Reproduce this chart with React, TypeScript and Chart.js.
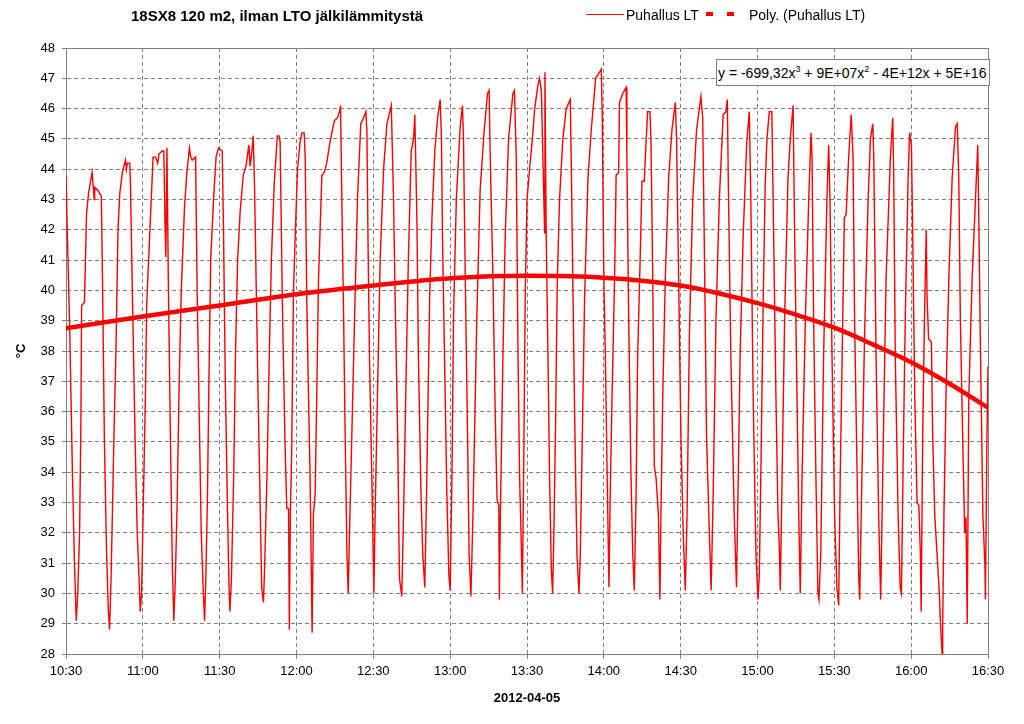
import { useEffect, useRef } from 'react'
import Chart from 'chart.js/auto'

// minutes since 10:30 for each logged sample
const sampleMinutes = [
  0, 0.5, 1.5, 2.5, 3.3, 4.0, 4.6, 5.3, 5.8, 6.1,
  7.2, 7.6, 8.0, 8.8, 10.2, 11.0, 11.2, 12.5, 13.8, 14.3,
  15.0, 15.8, 16.5, 17.0, 17.6, 18.2, 18.8, 19.5, 20.3, 21.0,
  22.0, 23.2, 23.6, 23.9, 24.9, 25.2, 26.0, 27.0, 27.8, 28.3,
  29.0, 29.5, 30.2, 31.0, 31.5, 32.5, 33.6, 34.0, 35.0, 35.8,
  36.3, 37.5, 38.2, 38.7, 39.0, 39.4, 40.0, 40.8, 41.5, 42.1,
  42.7, 43.4, 44.2, 45.0, 46.3, 47.2, 48.2, 48.7, 49.3, 50.6,
  51.2, 52.0, 52.8, 53.5, 54.1, 54.6, 55.2, 55.8, 56.5, 57.6,
  58.6, 59.5, 61.0, 61.5, 62.2, 63.0, 63.6, 64.0, 64.6, 65.5,
  66.2, 67.0, 68.0, 69.2, 70.3, 71.4, 71.9, 72.6, 73.1, 73.6,
  74.3, 75.0, 75.8, 76.4, 77.1, 77.6, 78.5, 79.4, 80.2, 81.3,
  82.5, 83.2, 83.6, 84.5, 85.5, 86.2, 86.9, 87.2, 87.6, 88.1,
  88.8, 89.5, 90.4, 91.4, 92.1, 93.0, 93.4, 94.0, 94.7, 95.3,
  96.1, 96.6, 97.3, 97.9, 98.6, 99.9, 100.9, 101.8, 102.9, 103.8,
  104.8, 106.0, 106.8, 107.2, 107.7, 108.4, 109.0, 109.7, 110.2, 110.7,
  111.6, 112.9, 113.8, 115.1, 116.2, 117.1, 117.5, 117.9, 118.5, 119.4,
  120.2, 120.7, 121.6, 122.7, 124.0, 125.3, 127.0, 127.9, 128.5, 129.5,
  130.2, 131.1, 131.8, 132.8, 133.7, 134.8, 135.7, 136.2, 137.0, 137.6,
  138.6, 139.3, 140.1, 140.9, 142.0, 142.9, 144.0, 145.1, 146.1, 146.6,
  147.0, 147.8, 148.7, 149.5, 150.0, 150.7, 151.3, 152.4, 153.9, 154.8,
  155.2, 155.9, 156.8, 157.4, 158.1, 158.9, 160.4, 161.7, 163.3, 164.6,
  165.2, 165.6, 166.7, 167.6, 168.3, 169.0, 169.2, 169.6, 170.6, 171.5,
  172.8, 174.5, 175.1, 175.8, 176.5, 177.1, 177.6, 178.2, 178.8, 179.3,
  180.0, 181.0, 182.1, 183.0, 184.3, 184.9, 185.6, 186.2, 186.9, 187.0,
  187.5, 188.2, 188.8, 189.5, 190.0, 190.5, 191.2, 191.8, 192.7, 194.0,
  195.3, 196.9, 197.3, 197.9, 198.6, 199.5, 200.3, 200.8, 201.6, 202.5,
  203.8, 205.1, 206.8, 208.3, 209.0, 209.4, 210.0, 210.6, 211.3, 212.0,
  212.5, 213.2, 214.2, 214.8, 215.8, 216.1, 217.4, 218.7, 219.0, 219.7,
  220.6, 221.3, 221.9, 222.6, 223.2, 224.2, 224.9, 225.8, 226.2, 227.1,
  228.0, 228.4, 229.1, 229.7, 230.4, 231.3, 231.9, 232.3, 233.0, 234.0,
  235.3, 236.6, 237.9, 238.4, 239.2, 240.1, 241.0, 241.8, 242.5, 243.4,
  244.7, 246.2, 247.9, 248.6, 249.4, 250.1, 251.2, 251.9, 252.7, 253.8,
  255.1, 256.6, 257.7, 258.2, 258.7, 259.6, 260.9, 261.8, 262.5, 263.2,
  264.4, 265.8, 266.8, 267.4, 268.3, 269.4, 270.2, 270.7, 271.4, 272.2,
  273.0, 273.7, 274.6, 275.6, 276.3, 277.2, 278.0, 278.5, 278.9, 279.6,
  280.6, 281.9, 282.8, 283.9, 284.5, 285.2, 286.1, 286.7, 287.4, 288.7,
  290.0, 290.9, 291.3, 291.9, 292.8, 293.6, 294.0, 294.7, 295.8, 297.1,
  297.8, 298.3, 299.1, 300.1, 301.0, 301.7, 302.3, 303.3, 303.9, 304.6,
  305.6, 306.6, 307.3, 307.9, 308.9, 309.5, 309.9, 310.5, 311.8, 313.2,
  314.1, 315.0, 315.4, 316.3, 317.3, 318.1, 318.9, 320.2, 321.9, 322.8,
  323.2, 323.8, 324.9, 325.7, 326.2, 326.8, 327.7, 328.8, 329.4, 330.1,
  330.6, 331.4, 332.3, 333.0, 333.6, 333.9, 334.5, 335.2, 335.9, 336.2,
  336.8, 337.9, 338.4, 339.2, 340.1, 341.0, 341.5, 342.1, 342.3, 342.8,
  343.6, 344.7, 346.0, 347.3, 348.0, 348.6, 349.2, 350.1, 350.9, 351.4,
  351.9, 352.5, 353.8, 355.1, 356.0, 356.4, 357.1, 358.0, 358.8, 359.0,
  359.6, 360.0,
]

// Puhallus LT, °C
const puhallusLT = [
  43.8, 42.0, 38.5, 34.0, 31.0, 29.1, 30.0, 32.0, 35.5, 39.5,
  39.6, 41.0, 42.5, 43.2, 43.9, 43.0, 43.4, 43.3, 43.1, 40.0,
  35.0, 31.5, 29.5, 28.8, 30.5, 33.0, 35.5, 38.0, 42.0, 43.2,
  43.9, 44.3, 44.0, 44.2, 44.2, 43.4, 39.5, 35.0, 32.0, 31.0,
  29.4, 30.0, 33.0, 36.5, 39.5, 41.5, 43.6, 44.4, 44.4, 44.2,
  44.5, 44.6, 44.6, 42.0, 41.1, 44.7, 40.0, 35.0, 31.0, 29.1,
  30.5, 33.0, 37.0, 40.0, 42.8, 43.9, 44.7, 44.4, 44.3, 44.4,
  40.0, 36.0, 32.0, 30.3, 29.1, 30.5, 33.0, 37.0, 41.0, 43.0,
  44.4, 44.7, 44.6, 42.0, 37.0, 33.0, 30.4, 29.4, 30.5, 34.0,
  38.0, 41.0, 42.6, 43.8, 44.1, 44.8, 44.1, 44.6, 45.1, 43.5,
  40.0, 36.5, 33.0, 30.2, 29.7, 31.0, 34.0, 38.0, 41.0, 43.5,
  45.1, 45.1, 44.9, 39.5, 35.0, 32.8, 32.8, 28.8, 32.6, 34.6,
  39.9, 41.8, 44.0, 44.9, 45.2, 45.2, 44.4, 39.8, 36.5, 33.9,
  28.7, 32.6, 33.3, 36.5, 40.4, 43.8, 43.9, 44.2, 44.8, 45.2,
  45.6, 45.7, 45.9, 46.1, 43.0, 39.1, 35.2, 31.3, 30.0, 32.0,
  35.2, 39.9, 43.0, 45.5, 45.7, 45.9, 45.2, 41.8, 37.8, 33.9,
  30.0, 32.6, 36.5, 41.1, 44.0, 45.5, 46.1, 43.0, 39.8, 35.2,
  30.5, 29.9, 32.6, 37.2, 41.1, 44.6, 45.0, 45.8, 42.4, 37.8,
  33.3, 31.3, 30.2, 33.9, 39.8, 42.4, 44.6, 45.7, 46.3, 45.0,
  41.8, 37.8, 33.3, 30.6, 30.1, 33.9, 39.1, 43.0, 45.4, 46.1,
  45.0, 40.4, 35.2, 31.3, 29.9, 32.6, 39.1, 43.3, 45.3, 46.5,
  46.6, 44.6, 40.4, 35.9, 33.1, 32.9, 29.8, 32.6, 37.8, 41.8,
  45.0, 46.5, 46.6, 44.4, 37.8, 33.9, 32.2, 30.0, 35.0, 39.8,
  43.0, 44.0, 45.0, 46.0, 46.8, 47.0, 46.6, 44.4, 41.9, 47.2,
  41.8, 37.8, 33.9, 30.8, 30.0, 32.0, 35.9, 40.2, 43.0, 45.0,
  46.0, 46.3, 44.1, 40.2, 35.9, 31.3, 30.0, 31.3, 35.2, 39.8,
  43.7, 45.3, 47.0, 47.2, 47.3, 45.7, 40.4, 37.8, 33.9, 30.2,
  33.3, 36.5, 40.4, 43.8, 43.9, 46.2, 46.5, 46.7, 44.4, 39.1,
  33.9, 31.3, 30.1, 33.3, 37.8, 41.1, 43.6, 43.6, 44.4, 45.9,
  45.9, 45.0, 40.4, 34.2, 33.8, 32.6, 29.8, 32.6, 36.5, 40.4,
  43.7, 45.3, 46.2, 45.0, 40.4, 35.2, 32.0, 30.1, 32.6, 38.5,
  43.0, 45.3, 46.4, 45.7, 40.4, 35.2, 32.0, 30.1, 33.3, 39.1,
  43.0, 45.8, 45.9, 46.3, 43.0, 37.8, 32.6, 30.2, 33.9, 37.8,
  41.8, 44.9, 45.9, 43.0, 36.5, 31.3, 29.8, 30.6, 34.5, 39.5,
  43.5, 45.0, 45.9, 45.9, 41.8, 36.5, 32.6, 31.6, 30.1, 33.9,
  39.1, 43.7, 45.0, 46.1, 41.8, 37.8, 32.6, 30.0, 33.9, 39.1,
  43.0, 45.2, 44.4, 39.1, 33.9, 30.0, 29.8, 31.3, 37.8, 43.0,
  44.8, 43.0, 37.8, 32.6, 30.2, 29.6, 33.9, 39.1, 42.4, 42.5,
  44.4, 45.8, 44.4, 39.1, 33.9, 30.6, 29.8, 32.6, 38.5, 43.0,
  45.0, 45.5, 44.4, 37.8, 32.6, 29.8, 33.9, 40.4, 44.4, 45.7,
  43.7, 37.8, 32.6, 30.2, 30.0, 33.9, 39.1, 43.7, 45.2, 44.8,
  41.8, 36.5, 33.0, 32.9, 31.3, 29.4, 35.2, 39.1, 42.0, 39.8,
  38.4, 38.3, 35.2, 32.6, 31.3, 30.0, 28.9, 28.0, 28.9, 32.6,
  36.5, 40.4, 43.7, 45.4, 45.5, 43.7, 39.1, 35.2, 32.0, 32.5,
  29.0, 36.5, 40.4, 43.0, 44.8, 42.4, 37.8, 32.6, 30.9, 29.8,
  35.2, 37.5,
]

// Poly. (Puhallus LT)
const trendMinutes = [0, 30, 60, 90, 120, 150, 180, 210, 240, 270, 285, 300, 315, 330, 345, 360]
const trendLT = [38.75, 39.14, 39.5, 39.87, 40.16, 40.4, 40.48, 40.42, 40.16, 39.58, 39.2, 38.77, 38.22, 37.63, 36.92, 36.13]

const timeTicks = ['10:30', '11:00', '11:30', '12:00', '12:30', '13:00', '13:30', '14:00', '14:30', '15:00', '15:30', '16:00', '16:30']

const START = 630 // 10:30 in minutes
const FONT = "'Liberation Sans', Arial, Helvetica, sans-serif"

const framePlugin = {
  id: 'frame',
  beforeDatasetsDraw(chart: any) {
    const { ctx, chartArea: a } = chart
    ctx.save()
    ctx.strokeStyle = '#808080'
    ctx.lineWidth = 1
    ctx.strokeRect(a.left + 0.5, a.top + 0.5, a.right - a.left, a.bottom - a.top)
    ctx.restore()
  },
}

function TempChart() {
  const chartRef = useRef<HTMLCanvasElement | null>(null)

  useEffect(() => {
    const data = sampleMinutes.map((m, i) => ({ x: START + m, y: puhallusLT[i] }))
    const trend = trendMinutes.map((m, i) => ({ x: START + m, y: trendLT[i] }))

    const chart = new Chart(chartRef.current as HTMLCanvasElement, {
      type: 'line',
      data: {
        datasets: [
          {
            label: 'Puhallus LT',
            data,
            borderColor: '#ff0000',
            borderWidth: 1.4,
            pointRadius: 0,
            tension: 0,
          },
          {
            label: 'Poly. (Puhallus LT)',
            data: trend,
            borderColor: '#ff0000',
            borderWidth: 4.5,
            pointRadius: 0,
            cubicInterpolationMode: 'monotone',
          },
        ],
      },
      options: {
        responsive: false,
        animation: false,
        layout: { padding: { top: 48, right: 36, left: 0, bottom: 0 } },
        plugins: { legend: { display: false }, title: { display: false }, tooltip: { enabled: false } },
        scales: {
          x: {
            type: 'linear',
            min: START,
            max: START + 360,
            afterFit: (s: any) => { s.height = 70 },
            ticks: {
              stepSize: 30,
              autoSkip: false,
              maxRotation: 0,
              padding: 5,
              color: '#000',
              font: { family: FONT, size: 13 },
              callback: (v: any, i: number) => timeTicks[i],
            },
            grid: { color: '#808080', tickLength: 5, tickBorderDash: [] },
            border: { color: '#808080', dash: [4, 3] },
            title: {
              display: true,
              text: '2012-04-05',
              color: '#000',
              font: { family: FONT, size: 13, weight: 'bold' },
              padding: { top: 0, bottom: 18 },
            },
          },
          y: {
            min: 28,
            max: 48,
            afterFit: (s: any) => { s.width = 66 },
            ticks: {
              stepSize: 1,
              padding: 7,
              color: '#000',
              font: { family: FONT, size: 13 },
            },
            grid: { color: '#808080', tickLength: 4, tickBorderDash: [] },
            border: { color: '#808080', dash: [4, 3] },
            title: {
              display: true,
              text: '°C',
              color: '#000',
              font: { family: FONT, size: 13, weight: 'bold' },
              padding: { top: 14, bottom: 0 },
            },
          },
        },
      },
      plugins: [framePlugin],
    })

    return () => {
      chart.destroy()
    }
  }, [])

  return <canvas ref={chartRef} width={1024} height={724} style={{ position: 'absolute', left: 0, top: 0 }} />
}

export default function App() {
  const sup = { fontSize: 9, position: 'relative' as const, top: -6 }
  return (
    <div style={{ position: 'absolute', left: 0, top: 0, width: 1024, height: 724, background: '#fff', fontFamily: FONT }}>
      <TempChart />
      <div style={{ position: 'absolute', left: 131, top: 7, fontSize: 15, fontWeight: 'bold', lineHeight: '18px', whiteSpace: 'nowrap' }}>
        18SX8 120 m2, ilman LTO jälkilämmitystä
      </div>
      {/* legend */}
      <div style={{ position: 'absolute', left: 586, top: 14, width: 38, height: 1, background: '#ff0000' }} />
      <div style={{ position: 'absolute', left: 626, top: 6, fontSize: 14, lineHeight: '18px', whiteSpace: 'nowrap' }}>Puhallus LT</div>
      <div style={{ position: 'absolute', left: 706, top: 12, width: 7, height: 4, background: '#ff0000' }} />
      <div style={{ position: 'absolute', left: 727, top: 12, width: 7, height: 4, background: '#ff0000' }} />
      <div style={{ position: 'absolute', left: 749, top: 6, fontSize: 14, lineHeight: '18px', whiteSpace: 'nowrap' }}>Poly. (Puhallus LT)</div>
      {/* trendline equation */}
      <div
        style={{
          position: 'absolute', left: 716, top: 59, width: 271, height: 25, border: '1px solid #808080',
          background: '#fff', fontSize: 14, lineHeight: '27px', paddingLeft: 1, whiteSpace: 'nowrap', boxSizing: 'content-box',
        }}
      >
        y = -699,32x<span style={sup}>3</span> + 9E+07x<span style={sup}>2</span> - 4E+12x + 5E+16
      </div>
    </div>
  )
}
